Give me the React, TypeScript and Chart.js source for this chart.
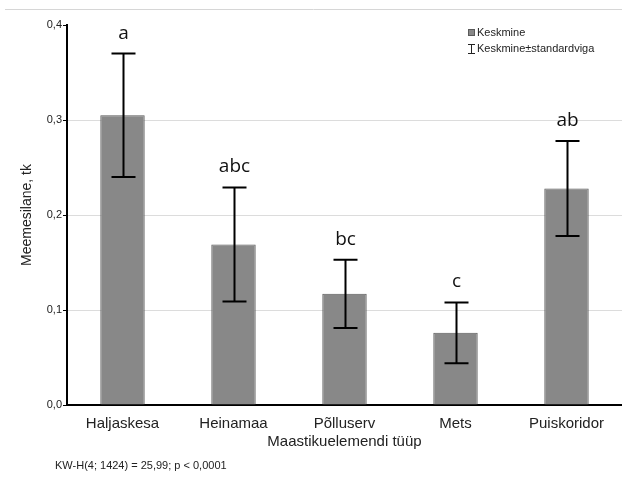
import React, { useEffect, useRef } from "react";
import { Chart, registerables } from "chart.js";

Chart.register(...registerables);

const categories = ["Haljaskesa", "Heinamaa", "Põlluserv", "Mets", "Puiskoridor"];
const means = [0.305, 0.169, 0.117, 0.076, 0.228];
const stdErrors = [0.065, 0.060, 0.036, 0.032, 0.050];
const groupLetters = ["a", "abc", "bc", "c", "ab"];
const yTicks = [0, 0.1, 0.2, 0.3, 0.4];
const yTitle = "Meemesilane, tk";
const xTitle = "Maastikuelemendi tüüp";
const legendMean = "Keskmine";
const legendErr = "Keskmine±standardviga";
const footnote = "KW-H(4; 1424) = 25,99; p < 0,0001";

const SANS = "'Liberation Sans', Arial, sans-serif";
const BAR_FILL = "#888888";
const BAR_EDGE = "#5a5a5a";

const overlayPlugin = {
  id: "overlay",
  afterDatasetsDraw(chart: any) {
    const ctx = chart.ctx;
    const xs = chart.scales.x;
    const ys = chart.scales.y;
    ctx.save();
    means.forEach((m, i) => {
      const cx = Math.round(xs.getPixelForValue(i)) + 0.5;
      const top = ys.getPixelForValue(m + stdErrors[i]);
      const bot = ys.getPixelForValue(m - stdErrors[i]);
      ctx.strokeStyle = "#000";
      ctx.lineWidth = 2;
      ctx.beginPath();
      ctx.moveTo(cx, top);
      ctx.lineTo(cx, bot);
      ctx.moveTo(cx - 12, top);
      ctx.lineTo(cx + 12, top);
      ctx.moveTo(cx - 12, bot);
      ctx.lineTo(cx + 12, bot);
      ctx.stroke();
      ctx.fillStyle = "#111";
      ctx.font = "19px 'Open Sans', 'DejaVu Sans', sans-serif";
      ctx.textAlign = "center";
      ctx.textBaseline = "alphabetic";
      ctx.fillText(groupLetters[i], cx, top - 15);
    });
    ctx.restore();
  },
  afterDraw(chart: any) {
    const ctx = chart.ctx;
    ctx.save();
    // top frame line
    ctx.strokeStyle = "#d6d6d6";
    ctx.lineWidth = 1;
    ctx.beginPath();
    ctx.moveTo(5, 9.5);
    ctx.lineTo(chart.width, 9.5);
    ctx.stroke();
    // legend
    ctx.fillStyle = BAR_FILL;
    ctx.fillRect(468, 29, 7, 7);
    ctx.strokeStyle = BAR_EDGE;
    ctx.strokeRect(468.5, 29.5, 6, 6);
    ctx.strokeStyle = "#222";
    ctx.lineWidth = 1;
    ctx.beginPath();
    ctx.moveTo(471.5, 44);
    ctx.lineTo(471.5, 53);
    ctx.moveTo(468, 44.5);
    ctx.lineTo(475, 44.5);
    ctx.moveTo(468, 53.5);
    ctx.lineTo(475, 53.5);
    ctx.stroke();
    ctx.fillStyle = "#222";
    ctx.font = "11px " + SANS;
    ctx.textAlign = "left";
    ctx.textBaseline = "middle";
    ctx.fillText(legendMean, 477, 33);
    ctx.fillText(legendErr, 477, 49);
    // footnote
    ctx.font = "11px " + SANS;
    ctx.fillText(footnote, 55, 466);
    ctx.restore();
  },
};

export default function App() {
  const ref = useRef<HTMLCanvasElement | null>(null);
  useEffect(() => {
    if (!ref.current) return;
    const chart = new Chart(ref.current, {
      type: "bar",
      data: {
        labels: categories,
        datasets: [
          {
            label: legendMean,
            data: means,
            backgroundColor: BAR_FILL,
            borderColor: BAR_EDGE,
            borderWidth: 1,
            barPercentage: 0.4,
            categoryPercentage: 1,
          },
        ],
      },
      options: {
        responsive: false,
        animation: false,
        devicePixelRatio: 1,
        layout: { padding: { left: 0, right: 0, top: 25, bottom: 33 } },
        plugins: { legend: { display: false }, tooltip: { enabled: false } },
        scales: {
          x: {
            afterFit: (s: any) => {
              s.height = 46;
            },
            grid: { display: true, color: "rgba(0,0,0,0)", drawTicks: false },
            border: { display: true, color: "#000", width: 2 },
            ticks: { color: "#222", font: { size: 15, family: SANS }, padding: 10 },
            title: {
              display: true,
              text: xTitle,
              color: "#222",
              font: { size: 15, family: SANS },
              padding: { top: 0, bottom: 0 },
            },
          },
          y: {
            min: 0,
            max: 0.4,
            afterFit: (s: any) => {
              s.width = 67;
            },
            afterBuildTicks: (s: any) => {
              s.ticks = yTicks.map((v) => ({ value: v }));
            },
            grid: {
              color: (c: any) =>
                c.tick && (c.tick.value === 0 || c.tick.value === 0.4) ? "rgba(0,0,0,0)" : "#dcdcdc",
              tickColor: "#000",
              tickLength: 4,
            },
            border: { display: true, color: "#000", width: 2 },
            ticks: {
              color: "#222",
              font: { size: 11, family: SANS },
              padding: 1,
              callback: (v: any) => Number(v).toFixed(1).replace(".", ","),
            },
            title: {
              display: true,
              text: yTitle,
              color: "#222",
              font: { size: 14, family: SANS },
              padding: { top: 19, bottom: 0 },
            },
          },
        },
      },
      plugins: [overlayPlugin],
    });
    return () => chart.destroy();
  }, []);
  return (
    <div style={{ position: "fixed", left: 0, top: 0, width: 622, height: 484, background: "#fff" }}>
      <canvas ref={ref} width={622} height={484} style={{ display: "block" }} />
    </div>
  );
}
